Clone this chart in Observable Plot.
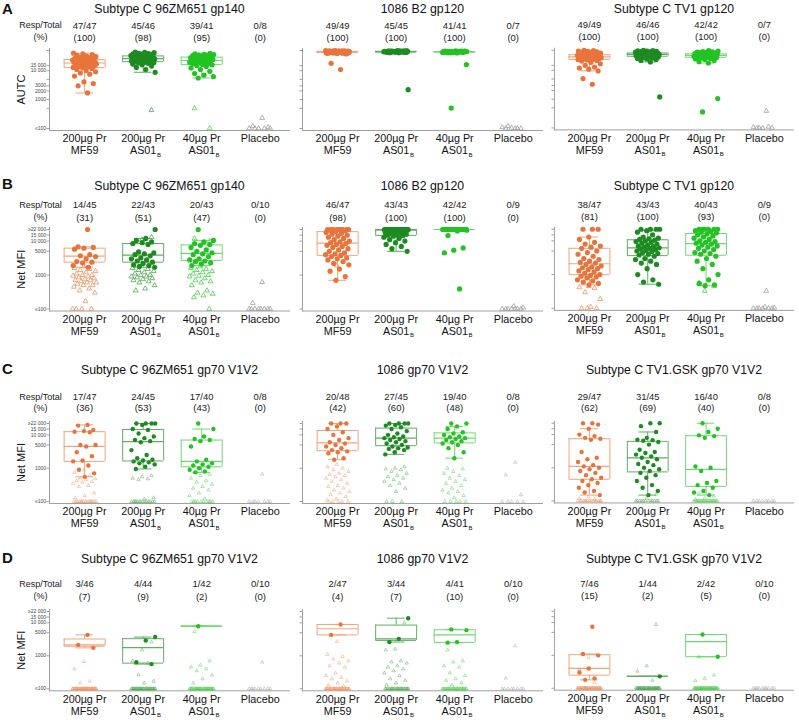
<!DOCTYPE html>
<html><head><meta charset="utf-8">
<script src="https://cdn.jsdelivr.net/npm/d3@7"></script>
<script src="https://cdn.jsdelivr.net/npm/@observablehq/plot@0.6"></script>
<style>
body{margin:0;background:#fff;font-family:"Liberation Sans",Arial,sans-serif;}
#root{position:relative;width:799px;height:720px;overflow:hidden;background:#fff;}
.panel{position:absolute;}
.letter{position:absolute;left:2px;font-weight:bold;font-size:15px;line-height:15px;color:#111;}
</style></head><body><div id="root"></div>
<script>
// ---------- categories & labels ----------
const groupLine1 = ["200µg Pr", "200µg Pr", "40µg Pr", "Placebo"];
const groupLine2 = ["MF59", "AS01", "AS01", ""];
const groupSub = ["", "B", "B", ""];
const ticksAUTC = [100, 500, 1000, 2000, 3000, 5000, 10000, 15000, 50000];
const labelsAUTC = ["≤100", "500", "1000", "2000", "3000", "5000", "10 000", "15 000", "50 000"];
const ticksMFI = [100, 1000, 5000, 10000, 15000, 22000];
const labelsMFI = ["≤100", "1000", "5000", "10 000", "15 000", "≥22 000"];
const titlesAB = ["Subtype C 96ZM651 gp140", "1086 B2 gp120", "Subtype C TV1 gp120"];
const titlesCD = ["Subtype C 96ZM651 gp70 V1V2", "1086 gp70 V1V2", "Subtype C TV1.GSK gp70 V1V2"];

// ---------- header texts ----------
const A1_hdr = ["47/47", "45/46", "39/41", "0/8"], A1_pct = ["(100)", "(98)", "(95)", "(0)"];
const A2_hdr = ["49/49", "45/45", "41/41", "0/7"], A2_pct = ["(100)", "(100)", "(100)", "(0)"];
const A3_hdr = ["49/49", "46/46", "42/42", "0/7"], A3_pct = ["(100)", "(100)", "(100)", "(0)"];
const B1_hdr = ["14/45", "22/43", "20/43", "0/10"], B1_pct = ["(31)", "(51)", "(47)", "(0)"];
const B2_hdr = ["46/47", "43/43", "42/42", "0/9"], B2_pct = ["(98)", "(100)", "(100)", "(0)"];
const B3_hdr = ["38/47", "43/43", "40/43", "0/9"], B3_pct = ["(81)", "(100)", "(93)", "(0)"];
const C1_hdr = ["17/47", "24/45", "17/40", "0/8"], C1_pct = ["(36)", "(53)", "(43)", "(0)"];
const C2_hdr = ["20/48", "27/45", "19/40", "0/8"], C2_pct = ["(42)", "(60)", "(48)", "(0)"];
const C3_hdr = ["29/47", "31/45", "16/40", "0/8"], C3_pct = ["(62)", "(69)", "(40)", "(0)"];
const D1_hdr = ["3/46", "4/44", "1/42", "0/10"], D1_pct = ["(7)", "(9)", "(2)", "(0)"];
const D2_hdr = ["2/47", "3/44", "4/41", "0/10"], D2_pct = ["(4)", "(7)", "(10)", "(0)"];
const D3_hdr = ["7/46", "1/44", "2/42", "0/10"], D3_pct = ["(15)", "(2)", "(5)", "(0)"];

// ---------- values: responders (filled) and non-responders (open) per group ----------
const A1_resp = [
 [1700,3000,3600,4100,6500,7600,8400,9200,10100,11000,12000,12600,13000,13600,14100,14500,15200,15500,16100,16800,17000,17600,18100,18500,19200,19500,20100,20400,21000,21700,22000,22600,23100,23500,24000,24600,25200,26100,27000,28300,29000,30500,32000,33800,36000,38000,40500],
 [8800,11000,13000,14500,16000,17000,18000,18500,19000,19500,20000,20500,21000,21500,22000,22500,23000,23500,24000,24500,25000,25500,26000,26500,27000,27500,28000,28500,29000,29500,30000,31000,32000,32500,33000,34000,35000,36000,37000,38000,39000,40000,42000,43000,44000],
 [5600,6200,7000,8000,9500,11000,12500,14000,15000,16000,16500,17500,18000,19000,19500,20000,21000,21500,22000,22500,23000,24000,24500,25000,26000,27000,27500,28000,29000,30000,31000,32000,33000,34000,35000,36000,37000,38500,40000],
 []];
const A1_non = [[], [430], [500, 100], [230, 120, 110, 100, 100, 100, 100, 100]];

const A2_resp = [
 [11000,18000,38000,39000,40000,40500,41000,41500,42000,42000,42500,43000,43000,43500,44000,44000,44500,45000,45000,45000,45500,46000,46000,46500,47000,47000,47500,48000,48000,48500,49000,49000,49500,50000,44000,45000,46000,43000,42000,47000,45000,44000,46000,45000,43000,47000,41000,48000,46000],
 [2200,42000,43000,44000,45000,46000,47000,48000,49000,50000,44000,45000,46000,47000,48000,43000,45000,46000,44000,47000,45000,46000,48000,49000,44000,45000,46000,47000,45000,43000,46000,44000,48000,47000,45000,46000,42000,49000,45000,46000,44000,47000,48000,46000,45000],
 [510,16400,41000,42000,43000,44000,45000,46000,47000,48000,49000,44000,45000,46000,43000,47000,45000,44000,46000,48000,45000,42000,46000,44000,47000,45000,43000,46000,45000,44000,47000,46000,45000,48000,44000,46000,45000,43000,47000,45000,46000],
 []];
const A2_non = [[], [], [], [100, 100, 100, 105, 110, 100, 120]];

const A3_resp = [
 [3300,5200,9600,11000,12000,13000,15000,17000,19000,21000,22000,23000,24000,24400,24900,25300,25800,26200,26700,27100,27600,28000,28500,29000,29500,30000,30400,30900,31300,31800,32200,32700,33100,33600,34000,34500,35000,36000,37000,38000,39000,40000,41000,42500,44000,45500,47000,48500,50000],
 [1200,19600,22000,24000,25000,26000,27000,28000,29000,29500,30000,31000,31500,32000,32500,33000,33500,34000,34500,35000,35000,35500,36000,36500,37000,37500,38000,38500,39000,39500,40000,40500,41000,42000,43000,44000,45000,46000,47000,48000,49000,50000,36000,38000,40000,34000],
 [360,1050,18000,20000,22000,24000,25000,26000,27000,28000,28500,29000,30000,30500,31000,32000,32500,33000,33500,34000,34500,35000,35500,36000,36500,37000,37500,38000,39000,40000,41000,42000,43000,44000,45000,47000,49000,33000,35000,31000,36000,29000],
 []];
const A3_non = [[], [], [], [390, 100, 100, 100, 105, 110, 100]];

const B1_resp = [
 [22000,6800,6500,6200,5800,4000,3700,3500,3000,2500,2400,2300,1900,1700],
 [22000,12000,10500,9500,9000,8500,8000,4800,4500,4200,4000,3700,3200,3000,2800,2600,2400,2200,2000,1900,1800,1700],
 [22000,10500,9500,8500,8000,7500,6500,5500,5000,4500,4200,4000,3500,3000,2800,2600,2500,2300,2100,1900],
 []];
const B1_non = [
 [1800,1600,1500,1400,1300,1200,1100,1000,1000,950,900,850,800,750,700,700,650,600,600,550,500,500,450,400,350,300,170,100,100,100,100],
 [13000,11000,1600,1500,1400,1300,1200,1100,1000,1000,900,900,850,800,750,700,650,600,500,400,350],
 [12000,10000,1800,1600,1500,1400,1300,1200,1100,1000,950,900,800,700,650,600,500,350,300,280,250,220,100],
 [620,150,100,100,100,100,100,100,100,100]];

const B2_resp = [
 [22000,22000,22000,22000,22000,22000,22000,22000,22000,21000,20000,19000,18000,17000,16000,15000,14000,13000,12000,11000,10000,9500,9000,8500,8000,7500,7000,6500,6000,5500,5000,4500,4200,4000,3800,3500,3200,3000,2800,2500,2200,2000,1500,1300,900,700],
 [22000,22000,22000,22000,22000,22000,22000,22000,22000,22000,22000,22000,22000,22000,22000,22000,22000,22000,22000,22000,22000,21000,20000,19000,18500,18000,17500,17000,16500,16000,15500,15000,14500,14000,13000,12000,11000,10000,9000,8000,7000,6000,5000],
 [22000,22000,22000,22000,22000,22000,22000,22000,22000,22000,22000,22000,22000,22000,22000,22000,22000,22000,22000,22000,22000,22000,22000,22000,22000,22000,22000,22000,22000,22000,22000,22000,22000,22000,22000,21000,20000,14600,6300,5400,4500,390],
 []];
const B2_non = [[1900], [], [], [100, 100, 100, 100, 100, 100, 100, 110, 120]];

const B3_resp = [
 [22000,22000,22000,13000,11000,9000,8000,7000,6500,6000,5000,4500,4000,3500,3000,2800,2500,2300,2200,2000,1800,1700,1600,1500,1400,1300,1200,1100,1000,950,900,850,800,700,650,600,550,500],
 [22000,22000,22000,22000,20000,18000,15000,13000,12000,11500,11000,10500,10000,9500,9000,8500,8000,7500,7000,6800,6500,6200,6000,5800,5500,5200,5000,4800,4500,4200,4000,3800,3500,3000,2800,2500,2200,2000,1500,1000,700,600,520],
 [22000,22000,22000,22000,22000,22000,20000,19000,18000,17000,16000,15000,14000,13000,12000,11000,10000,9500,9000,8500,8000,7500,7000,6500,6000,5500,5000,4500,4200,4000,3500,3000,2500,2000,1500,1000,700,550,500,470],
 []];
const B3_non = [[460,420,400,300,190,110,100,100,100], [], [560,450,330], [330,100,100,100,100,100,100,105,110]];

const C1_resp = [
 [20000,19000,14000,13000,12500,12000,5000,5000,4500,3000,2300,1700,1600,1200,900,700,550],
 [22000,22000,22000,22000,20000,15000,14000,11000,9000,8000,7000,6500,6000,3500,2500,2000,1800,1700,1600,1500,1400,1300,1100,950],
 [22000,15000,9000,7500,7000,6500,4500,1800,1600,1400,1300,1200,1100,1000,900,800,750],
 []];
const C1_non = [
 [900,750,600,500,480,450,420,400,380,350,300,280,180,150,130,100,100,100,100,100,100,100,100,100,100,100,100,100,100,100],
 [600,550,500,480,450,130,120,100,100,100,100,100,100,100,100,100,100,100,100,100,100],
 [750,650,600,500,420,380,330,280,250,220,180,150,120,100,100,100,100,100,100,100,100,100,100],
 [660,100,100,100,100,100,100,100]];

const C2_resp = [
 [22000,22000,22000,18000,15000,12000,10000,8000,7000,6000,5500,5000,4500,4000,3500,3200,3000,2800,2000,1800],
 [22000,22000,22000,22000,20000,19000,17000,15000,13000,11000,10000,9000,8500,8000,7500,7000,6500,6000,5500,5000,4500,4200,4000,3800,3500,3000,2600],
 [22000,22000,18000,15000,12000,11000,10000,9000,8500,8000,7500,7000,6500,6000,5500,5000,4000,3000,2000],
 []];
const C2_non = [
 [1300,1100,1000,900,800,700,650,600,550,500,450,400,350,300,280,250,220,200,180,160,140,120,110,100,100,100,100,100],
 [1100,1000,950,900,800,700,600,550,500,450,400,350,300,250,200,100,100,100],
 [1000,950,800,700,600,500,450,400,350,300,250,220,200,180,150,130,100,100,100,100,100],
 [1500,630,160,100,100,100,100,100]];

const C3_resp = [
 [22000,22000,20000,15000,10000,9000,8000,7500,7000,3000,2000,1800,1500,1200,1100,1000,900,800,700,600,500,450,400,350,300,250,200,180,150],
 [22000,22000,18000,12000,8000,7000,6800,6500,6000,5000,3500,3000,2800,2500,2200,2000,1800,1500,1300,1200,1000,900,800,700,600,500,400,300,250,200,150],
 [22000,15000,12000,9500,9000,8000,1100,1000,800,400,350,300,250,200,180,150],
 []];
const C3_non = [
 [130,120,110,100,100,100,100,100,100,100,100,100,100,100,100,100,100,100],
 [160,120,100,100,100,100,100,100,100,100,100,100,100,100],
 [170,140,120,110,100,100,100,100,100,100,100,100,100,100,100,100,100,100,100,100,100,100,100,100],
 [100,100,100,100,100,100,100,100]];

const D1_resp = [[4300, 2150, 1740], [3700, 2900, 640, 560], [7900], []];
const D1_non = [
 [670,400,170,150,100,100,100,100,100,100,100,100,100,100,100,100,100,100,100,100,100,100,100,100,100,100,100,100,100,100,100,100,100,100,100,100,100,100,100,100,100,100,100],
 [2600,1500,700,600,265,170,150,100,100,100,100,100,100,100,100,100,100,100,100,100,100,100,100,100,100,100,100,100,100,100,100,100,100,100,100,100,100,100,100,100],
 [5400,700,520,450,400,350,260,200,150,100,100,100,100,100,100,100,100,100,100,100,100,100,100,100,100,100,100,100,100,100,100,100,100,100,100,100,100,100,100,100,100],
 [640,100,100,100,100,100,100,100,100,100]];

const D2_resp = [[8900, 4300], [13800, 3260, 2600], [6300, 6000, 2600, 2500], []];
const D2_non = [
 [2700,1100,950,800,700,600,500,450,300,250,220,200,170,150,130,120,100,100,100,100,100,100,100,100,100,100,100,100,100,100,100,100,100,100,100,100,100,100,100,100,100,100,100,100,100],
 [10000,1600,1500,700,650,600,500,450,400,350,300,250,200,180,150,130,100,100,100,100,100,100,100,100,100,100,100,100,100,100,100,100,100,100,100,100,100,100,100,100,100],
 [1500,700,650,500,450,300,250,200,180,150,130,100,100,100,100,100,100,100,100,100,100,100,100,100,100,100,100,100,100,100,100,100,100,100,100,100,100],
 [2000,210,100,100,100,100,100,100,100,100]];

const D3_resp = [[7400, 1100, 1000, 400, 300, 200, 180], [230], [4300, 910], []];
const D3_non = [
 [870,360,150,100,100,100,100,100,100,100,100,100,100,100,100,100,100,100,100,100,100,100,100,100,100,100,100,100,100,100,100,100,100,100,100,100,100,100,100],
 [8700,480,330,175,100,100,100,100,100,100,100,100,100,100,100,100,100,100,100,100,100,100,100,100,100,100,100,100,100,100,100,100,100,100,100,100,100,100,100,100,100,100,100],
 [900,250,200,170,100,100,100,100,100,100,100,100,100,100,100,100,100,100,100,100,100,100,100,100,100,100,100,100,100,100,100,100,100,100,100,100,100,100,100,100],
 [100,100,100,100,100,100,100,100,100,100]];

// ---------- styling ----------
const pointColor = ["#E8743C", "#1E8B22", "#22C322", "#9a9a9a"];
const boxColor = ["#F0A47C", "#5FAE62", "#70D870", "#b0b0b0"];
const triColor = ["#EE9466", "#4FA852", "#4CCB4C", "#a0a0a0"];
const XA = [49, 302, 554];

const rows = [
  {letter: "A", top: 1, frameTop: 48, frameBottom: 130, yMax: 50000, ticks: ticksAUTC, labels: labelsAUTC, ylabel: "AUTC", titles: titlesAB, titleDy: -39, h1: -23, h2: -11, rDot: 2.6, rTri: 1.8, triOp: 1, triW: 0.8,
   panels: [[A1_resp, A1_non, A1_hdr, A1_pct], [A2_resp, A2_non, A2_hdr, A2_pct], [A3_resp, A3_non, A3_hdr, A3_pct]]},
  {letter: "B", top: 176, frameTop: 226.5, frameBottom: 310, yMax: 22000, ticks: ticksMFI, labels: labelsMFI, ylabel: "Net MFI", titles: titlesAB, titleDy: -41.5, h1: -22.5, h2: -10, rDot: 2.6, rTri: 1.8, triOp: 1, triW: 0.8,
   panels: [[B1_resp, B1_non, B1_hdr, B1_pct], [B2_resp, B2_non, B2_hdr, B2_pct], [B3_resp, B3_non, B3_hdr, B3_pct]]},
  {letter: "C", top: 361, frameTop: 420.7, frameBottom: 502.7, yMax: 22000, ticks: ticksMFI, labels: labelsMFI, ylabel: "Net MFI", titles: titlesCD, titleDy: -51.5, h1: -24.7, h2: -13.4, rDot: 2.2, rTri: 1.25, triOp: 0.65, triW: 0.7,
   panels: [[C1_resp, C1_non, C1_hdr, C1_pct], [C2_resp, C2_non, C2_hdr, C2_pct], [C3_resp, C3_non, C3_hdr, C3_pct]]},
  {letter: "D", top: 550, frameTop: 609, frameBottom: 690.3, yMax: 22000, ticks: ticksMFI, labels: labelsMFI, ylabel: "Net MFI", titles: titlesCD, titleDy: -50.7, h1: -25.7, h2: -13, rDot: 2.2, rTri: 1.25, triOp: 0.65, triW: 0.7,
   panels: [[D1_resp, D1_non, D1_hdr, D1_pct], [D2_resp, D2_non, D2_hdr, D2_pct], [D3_resp, D3_non, D3_hdr, D3_pct]]}
];

// Tukey five-number summary + whiskers
function boxStats(vals) {
  const x = vals.slice().sort((a, b) => a - b), n = x.length;
  const n4 = Math.floor((n + 3) / 2) / 2;
  const d = [1, n4, (n + 1) / 2, n + 1 - n4, n];
  const f = d.map(k => 0.5 * (x[Math.floor(k) - 1] + x[Math.ceil(k) - 1]));
  const q1 = f[1], med = f[2], q3 = f[3], iqr = q3 - q1;
  const lo = d3.min(x.filter(v => v >= q1 - 1.5 * iqr));
  const hi = d3.max(x.filter(v => v <= q3 + 1.5 * iqr));
  return {q1, med, q3, lo, hi};
}
// deterministic spread of points within a group
function jit(i, s) { return ((((i + 1) * 0.6180339887 + s * 0.37) % 1) - 0.5) * 0.42; }

const root = document.getElementById("root");
const font = "'Liberation Sans', Arial, sans-serif";

rows.forEach(row => {
  const L = document.createElement("div");
  L.className = "letter"; L.style.top = row.top + "px"; L.textContent = row.letter;
  root.appendChild(L);
  row.panels.forEach(([resp, non, hdr, pct], col) => {
    const ML = col === 0 ? 50 : 12, MR = 6, MT = 62, MB = 36;
    const width = ML + 240 + MR;
    const height = MT + (row.frameBottom - row.frameTop) + MB;
    const stats = resp.map((v, g) => v.length ? {g, ...boxStats(v)} : null).filter(Boolean);
    const pts = [], tri = [];
    resp.forEach((vals, g) => vals.forEach((v, i) => pts.push({g, v, i})));
    non.forEach((vals, g) => vals.forEach((v, i) => tri.push({g, v, i})));
    const bs = d => boxColor[d.g];
    const marks = [
      Plot.frame({anchor: "left", stroke: "#a0a0a0"}),
      Plot.frame({anchor: "bottom", stroke: "#a0a0a0"}),
      Plot.axisY({ticks: row.ticks, tickFormat: col === 0 ? (d => row.labels[row.ticks.indexOf(d)]) : (() => ""),
        tickSize: 2.5, tickPadding: 1, fontSize: 5, stroke: "#a0a0a0", fill: "#444", label: null}),
      // box
      Plot.ruleY(stats, {y: "q1", x1: d => d.g - 0.35, x2: d => d.g + 0.35, stroke: bs, strokeWidth: 1}),
      Plot.ruleY(stats, {y: "q3", x1: d => d.g - 0.35, x2: d => d.g + 0.35, stroke: bs, strokeWidth: 1}),
      Plot.ruleX(stats, {x: d => d.g - 0.35, y1: "q1", y2: "q3", stroke: bs, strokeWidth: 1}),
      Plot.ruleX(stats, {x: d => d.g + 0.35, y1: "q1", y2: "q3", stroke: bs, strokeWidth: 1}),
      Plot.ruleY(stats, {y: "med", x1: d => d.g - 0.35, x2: d => d.g + 0.35, stroke: bs, strokeWidth: 1.2}),
      Plot.ruleX(stats, {x: "g", y1: "q3", y2: "hi", stroke: bs, strokeWidth: 1}),
      Plot.ruleX(stats, {x: "g", y1: "q1", y2: "lo", stroke: bs, strokeWidth: 1}),
      Plot.ruleY(stats, {y: "hi", x1: d => d.g - 0.15, x2: d => d.g + 0.15, stroke: bs, strokeWidth: 1}),
      Plot.ruleY(stats, {y: "lo", x1: d => d.g - 0.15, x2: d => d.g + 0.15, stroke: bs, strokeWidth: 1}),
      // points
      Plot.dot(tri, {x: d => d.g + jit(d.i, d.g + 5), y: "v", symbol: "triangle", r: row.rTri, fill: "none",
        stroke: d => triColor[d.g], strokeWidth: row.triW, strokeOpacity: row.triOp}),
      Plot.dot(pts, {x: d => d.g + jit(d.i, d.g), y: "v", r: row.rDot, fill: d => pointColor[d.g], stroke: "none"}),
      // texts
      Plot.text([row.titles[col]], {frameAnchor: "top", dy: row.titleDy, lineAnchor: "middle", fontSize: 12.3, fill: "#111"}),
      Plot.text(hdr, {x: (d, i) => i, frameAnchor: "top", dy: row.h1, lineAnchor: "middle", fontSize: 9.5, fill: "#222"}),
      Plot.text(pct, {x: (d, i) => i, frameAnchor: "top", dy: row.h2, lineAnchor: "middle", fontSize: 9.5, fill: "#222"}),
      Plot.text(groupLine1, {x: (d, i) => i, frameAnchor: "bottom", dy: 8.5, lineAnchor: "middle", fontSize: 10.8, fill: "#111"}),
      Plot.text(groupLine2, {x: (d, i) => i, frameAnchor: "bottom", dy: 20.5, lineAnchor: "middle", fontSize: 10.8, fill: "#111"}),
      Plot.text(groupSub, {x: (d, i) => i, frameAnchor: "bottom", dx: 13.8, dy: 24.5, lineAnchor: "middle", textAnchor: "start", fontSize: 6, fill: "#111"})
    ];
    if (col === 0) {
      marks.push(
        Plot.text(["Resp/Total"], {frameAnchor: "top-left", dx: -9, dy: row.h1, textAnchor: "middle", lineAnchor: "middle", fontSize: 9, fill: "#222"}),
        Plot.text(["(%)"], {frameAnchor: "top-left", dx: -9, dy: row.h2, textAnchor: "middle", lineAnchor: "middle", fontSize: 9, fill: "#222"}),
        Plot.text([row.ylabel], {frameAnchor: "left", dx: -28.5, rotate: -90, textAnchor: "middle", lineAnchor: "middle", fontSize: 11, fill: "#111"})
      );
    }
    const svg = Plot.plot({
      width, height, marginLeft: ML, marginRight: MR, marginTop: MT, marginBottom: MB,
      x: {type: "linear", domain: [-0.6, 3.5], axis: null},
      y: {type: "log", domain: [100, row.yMax], insetTop: 2, insetBottom: 2},
      color: {type: "identity"},
      style: {fontFamily: font, fontSize: "10px", background: "transparent", overflow: "visible", color: "#222"},
      marks
    });
    const wrap = document.createElement("div");
    wrap.className = "panel";
    wrap.style.left = (XA[col] - ML) + "px";
    wrap.style.top = (row.frameTop - MT) + "px";
    wrap.appendChild(svg);
    root.appendChild(wrap);
  });
});
</script></body></html>
